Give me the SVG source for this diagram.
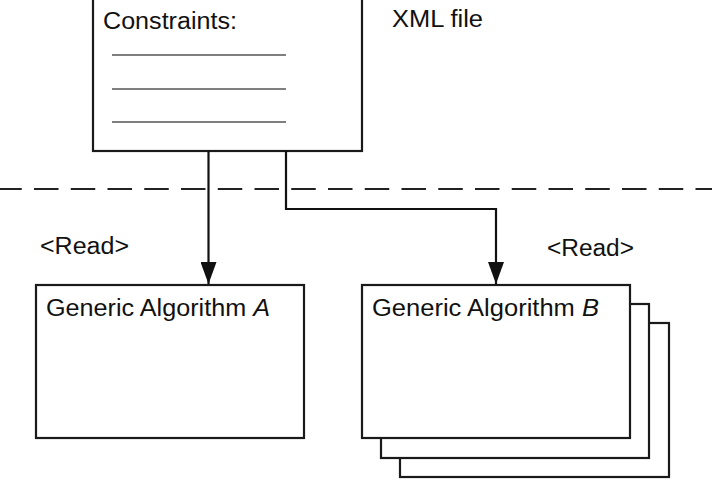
<svg xmlns="http://www.w3.org/2000/svg" width="712" height="480" viewBox="0 0 712 480">
  <style>
    .box { fill: #fff; stroke: #1a1a1a; stroke-width: 2.2; }
    .lbl { font-family: "Liberation Sans", Arial, sans-serif; font-size: 23.5px; fill: #111; }
    .conn { fill: none; stroke: #111; stroke-width: 2.2; }
    .rule { stroke: #555; stroke-width: 1.6; }
  </style>
  <defs>
    <marker id="arrow" markerUnits="userSpaceOnUse" markerWidth="22" markerHeight="16" refX="22" refY="8" orient="auto" viewBox="0 0 22 16">
      <path d="M0,0 L22,8 L0,16 Z" fill="#111"/>
    </marker>
  </defs>
  <rect width="712" height="480" fill="#fff"/>

  <g id="separator">
    <line x1="0" y1="189" x2="712" y2="189" stroke="#222" stroke-width="1.8" stroke-dasharray="24.5 12.25" stroke-dashoffset="2.75"/>
  </g>

  <g id="xml-file">
    <rect class="box" x="93" y="-10" width="269" height="161"/>
    <text class="lbl" x="103" y="29" textLength="134" lengthAdjust="spacingAndGlyphs">Constraints:</text>
    <line class="rule" x1="112" y1="55" x2="286" y2="55"/>
    <line class="rule" x1="112" y1="89" x2="286" y2="89"/>
    <line class="rule" x1="112" y1="122" x2="286" y2="122"/>
  </g>
  <g id="xml-label">
    <text class="lbl" x="392" y="27" textLength="91" lengthAdjust="spacingAndGlyphs">XML file</text>
  </g>

  <g id="algo-a">
    <rect class="box" x="36" y="285" width="268" height="153"/>
    <text class="lbl" x="46" y="316" textLength="224" lengthAdjust="spacingAndGlyphs">Generic Algorithm <tspan font-style="italic">A</tspan></text>
  </g>

  <g id="algo-b">
    <rect class="box" x="400" y="323" width="269" height="154"/>
    <rect class="box" x="381" y="304" width="268" height="154"/>
    <rect class="box" x="362" y="285" width="268" height="153"/>
    <text class="lbl" x="372" y="316" textLength="227" lengthAdjust="spacingAndGlyphs">Generic Algorithm <tspan font-style="italic">B</tspan></text>
  </g>

  <g id="connectors">
    <path class="conn" d="M208.5,151 V284" marker-end="url(#arrow)"/>
    <path class="conn" d="M286,151 V209 H496 V284" marker-end="url(#arrow)"/>
    <text class="lbl" x="40" y="254" textLength="89" lengthAdjust="spacingAndGlyphs">&lt;Read&gt;</text>
    <text class="lbl" x="547" y="256" textLength="87" lengthAdjust="spacingAndGlyphs">&lt;Read&gt;</text>
  </g>
</svg>
